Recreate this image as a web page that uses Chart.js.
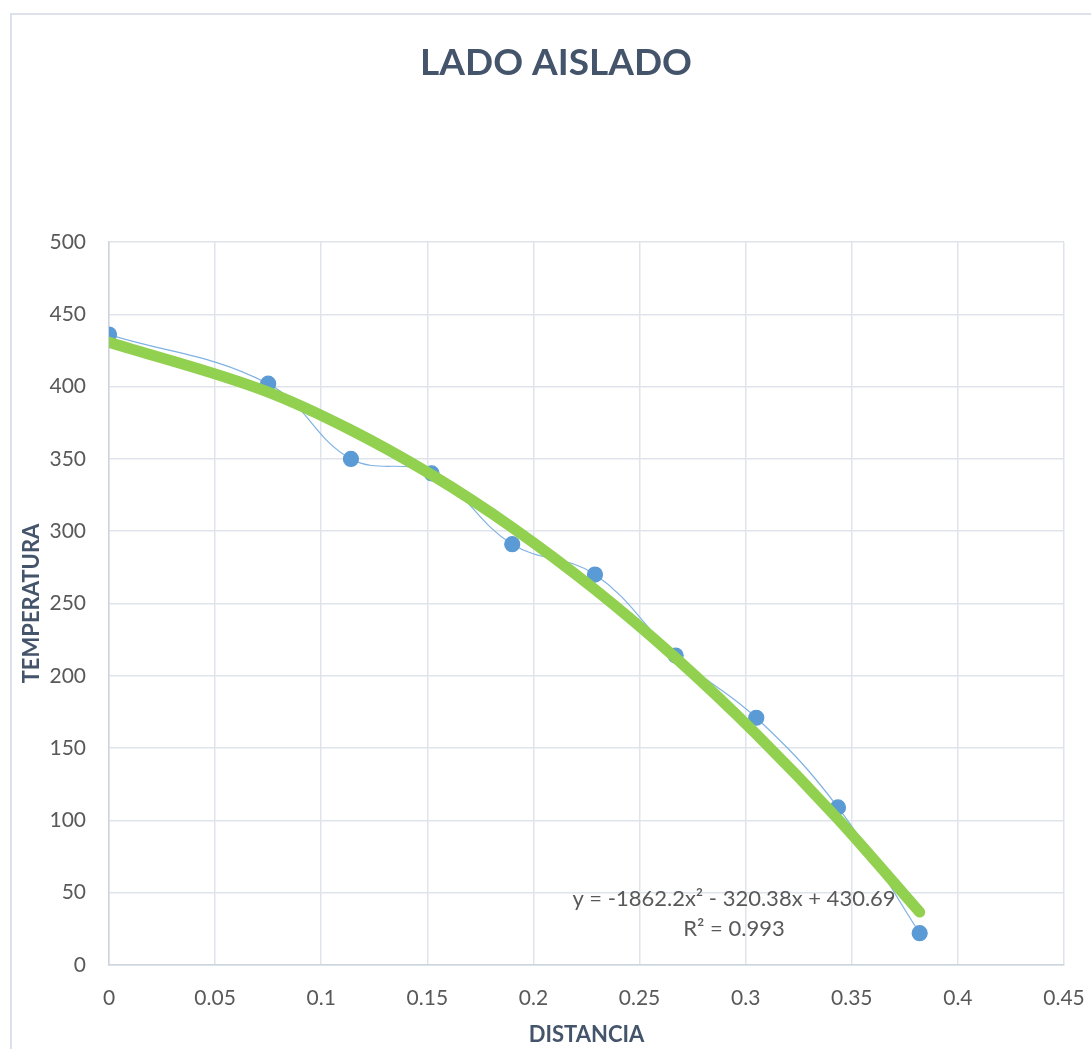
<!DOCTYPE html>
<html>
<head>
<meta charset="utf-8">
<script src="https://cdn.jsdelivr.net/npm/chart.js@4/dist/chart.umd.min.js"></script>
<style>
  html, body { margin: 0; padding: 0; background: #fff; }
  #wrap { position: relative; width: 1091px; height: 1049px; }
  #frame { position: absolute; left: 10px; top: 13px; right: -5px; bottom: -5px;
           border-left: 2px solid #dde2ea; border-top: 2px solid #dde2ea; pointer-events: none; }
</style>
</head>
<body>
<div id="wrap">
  <canvas id="lado"></canvas>
  <div id="frame"></div>
</div>
<script>
// ---------------- DATA ----------------
var distancia = [0, 0.075, 0.114, 0.152, 0.19, 0.229, 0.267, 0.305, 0.3435, 0.382];
var temperatura = [436, 402, 350, 340, 291, 270, 214, 171, 109, 22];
var tendencia = [430.7, 396.2, 370.0, 339.0, 302.6, 259.7, 212.4, 159.7, 100.9, 36.6];
var xTicks = [0, 0.05, 0.1, 0.15, 0.2, 0.25, 0.3, 0.35, 0.4, 0.45];
var yTicks = [0, 50, 100, 150, 200, 250, 300, 350, 400, 450, 500];
var titulo = 'LADO AISLADO';
var ecuacion = ['y = -1862.2x\u00b2 - 320.38x + 430.69', 'R\u00b2 = 0.993'];

var FONT = 'Lato, "Open Sans", sans-serif';
var gris = '#595959';
var azulOsc = '#44546a';

// ------------- titulo + texto de la ecuacion -------------
const textosPlugin = {
  id: 'textos',
  afterDraw(chart) {
    const ctx = chart.ctx;
    ctx.save();
    ctx.font = 'bold 37px ' + FONT;
    ctx.fillStyle = azulOsc;
    ctx.textAlign = 'center';
    ctx.textBaseline = 'middle';
    ctx.fillText(titulo, 556, 63);
    ctx.restore();
  },
  afterDatasetsDraw(chart) {
    const ctx = chart.ctx;
    const xs = chart.scales.x, ys = chart.scales.y;
    ctx.save();
    ctx.font = '22px ' + FONT;
    ctx.fillStyle = gris;
    ctx.textAlign = 'center';
    ctx.textBaseline = 'middle';
    ctx.fillText(ecuacion[0], xs.getPixelForValue(0.2945), ys.getPixelForValue(46));
    ctx.fillText(ecuacion[1], xs.getPixelForValue(0.2945), ys.getPixelForValue(25));
    ctx.restore();
  }
};

const chart = new Chart(document.getElementById('lado'), {
  type: 'scatter',
  data: {
    datasets: [{
      label: 'Tendencia',
      data: distancia.map((d, i) => ({ x: d, y: tendencia[i] })),
      showLine: true,
      borderColor: '#92d050',
      borderWidth: 11,
      borderCapStyle: 'round',
      cubicInterpolationMode: 'monotone',
      pointRadius: 0,
      order: 0
    }, {
      label: 'Temperatura',
      data: distancia.map((d, i) => ({ x: d, y: temperatura[i] })),
      showLine: true,
      borderColor: '#7fb2e2',
      borderWidth: 1.2,
      tension: 0.4,
      pointRadius: 7.5,
      pointBackgroundColor: '#5b9bd5',
      pointBorderColor: '#5b9bd5',
      order: 1
    }]
  },
  options: {
    responsive: true,
    maintainAspectRatio: false,
    animation: false,
    layout: { padding: { left: 14, right: 27, top: 242, bottom: 0 } },
    plugins: {
      legend: { display: false },
      tooltip: { enabled: false },
      title: { display: false }
    },
    scales: {
      x: {
        type: 'linear',
        min: 0,
        max: 0.45,
        afterBuildTicks: s => { s.ticks = xTicks.map(v => ({ value: v })); },
        afterFit: s => { s.height = 84; s.paddingLeft = 0; s.paddingRight = 0; },
        grid: { color: '#dfe4eb', lineWidth: 1.5, drawTicks: false },
        border: { color: '#cdd4de', width: 1.5 },
        ticks: {
          color: gris,
          padding: 21,
          font: { family: FONT, size: 21 },
          callback: v => String(Math.round(v * 100) / 100)
        },
        title: {
          display: true,
          text: 'DISTANCIA',
          color: azulOsc,
          font: { family: FONT, size: 22, weight: 'bold' },
          padding: { top: 0, bottom: 1 }
        }
      },
      y: {
        type: 'linear',
        min: 0,
        max: 500,
        afterBuildTicks: s => { s.ticks = yTicks.map(v => ({ value: v })); },
        afterFit: s => { s.width = 95; s.paddingTop = 0; s.paddingBottom = 0; },
        grid: { color: '#dfe4eb', lineWidth: 1.5, drawTicks: false },
        border: { color: '#cdd4de', width: 1.5 },
        ticks: {
          color: gris,
          padding: 23,
          font: { family: FONT, size: 21 }
        },
        title: {
          display: true,
          text: 'TEMPERATURA',
          color: azulOsc,
          font: { family: FONT, size: 22, weight: 'bold' },
          padding: { top: 5, bottom: 0 }
        }
      }
    }
  },
  plugins: [textosPlugin]
});
</script>
</body>
</html>
